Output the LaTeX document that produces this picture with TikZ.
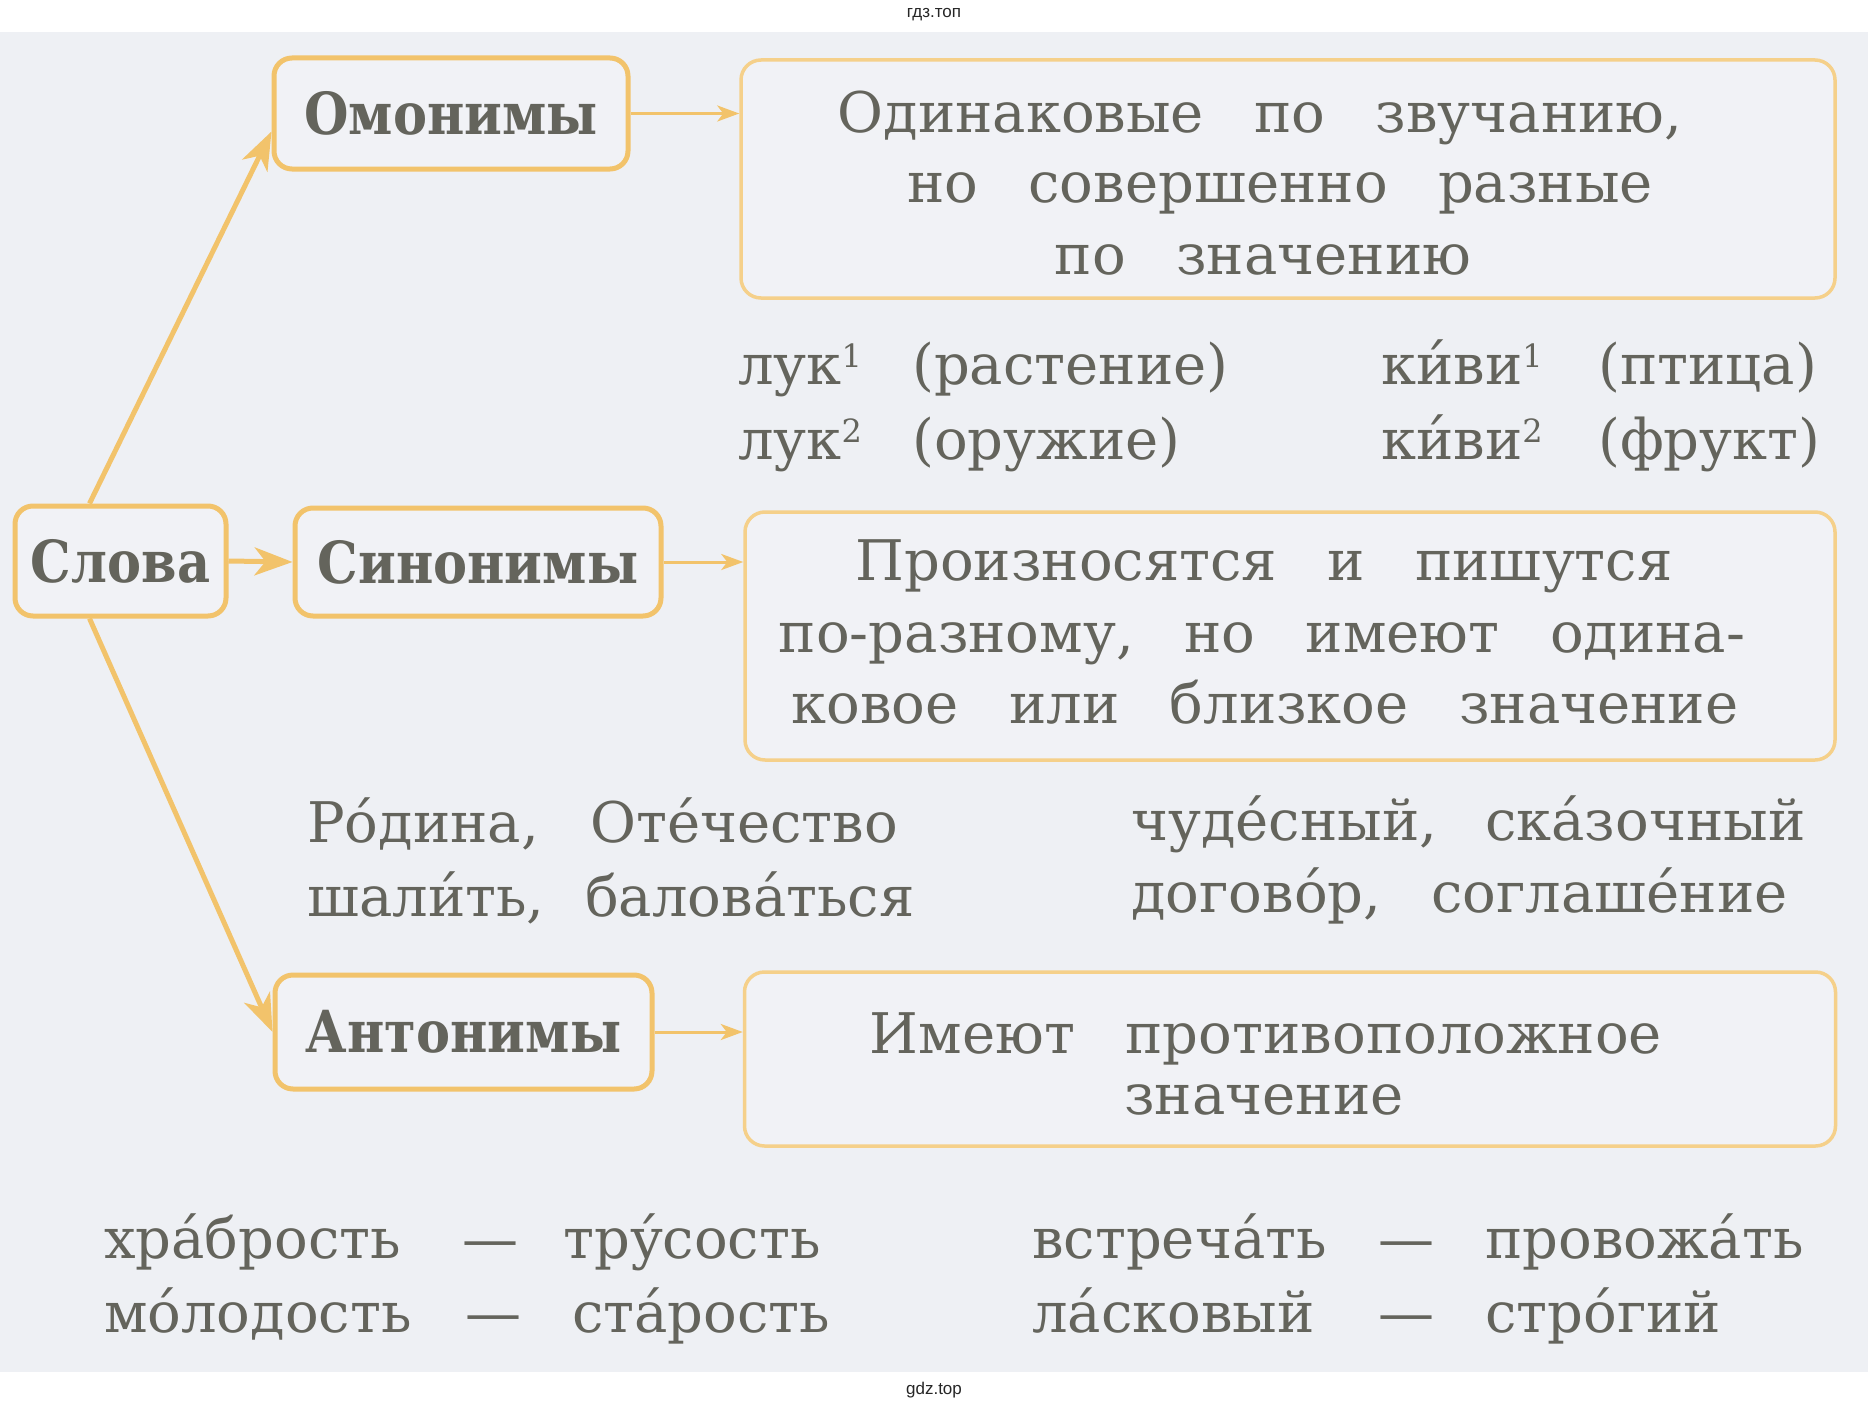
\documentclass[tikz,border=0pt]{standalone}
\usepackage{fontspec}
\setmainfont{DejaVu Serif}
\newfontfamily\boldlab[FakeStretch=0.88]{DejaVu Serif}
\newfontfamily\wmfont{Liberation Sans}
\usetikzlibrary{arrows.meta,positioning,calc}
\definecolor{bgc}{HTML}{EEF0F4}
\definecolor{gold}{HTML}{F2C36B}
\definecolor{goldl}{HTML}{F5D08A}
\definecolor{txtc}{HTML}{64645C}
\definecolor{boxfill}{HTML}{F1F2F6}
\newcommand\rfont{\fontsize{56}{64}\selectfont\spaceskip=0.9em\relax}
\newcommand\lfont{\boldlab\bfseries\fontsize{58}{64}\selectfont}
\newcommand\supd[1]{{\fontsize{32}{32}\selectfont\raisebox{17pt}{#1}}}
\tikzset{
  labbox/.style={draw=gold, line width=5pt, rounded corners=18pt, fill=boxfill,
    text=txtc, font=\lfont, inner sep=0pt},
  defbox/.style={draw=goldl, line width=3.5pt, rounded corners=20pt, fill=boxfill, inner sep=0pt},
  ln/.style={text=txtc, font=\rfont, inner sep=0pt, anchor=base},
  wd/.style={text=txtc, font=\rfont, inner sep=0pt, anchor=base west},
  bigarrow/.style={draw=gold, line width=5pt, -{Stealth[length=38pt,width=28pt,inset=11pt]}},
  thinarrow/.style={draw=gold, line width=3pt, -{Stealth[length=22pt,width=16pt,inset=6pt]}},
  wm/.style={font=\wmfont\fontsize{17}{17}\selectfont, text=black!85, inner sep=0pt}
}
\begin{document}
\begin{tikzpicture}[x=1pt,y=-1pt]
\useasboundingbox (0,0) rectangle (1868,1410);
\fill[white] (0,0) rectangle (1868,1410);
\fill[bgc] (0,32) rectangle (1868,1372);
\node[wm] (wmtop) at (934,15) {гдз.топ};
\node[wm] (wmbot) at (934,1390) {gdz.top};

% label boxes
\node[labbox, minimum width=211pt, minimum height=110pt] (slova) at (120.5,561) {Слова};
\node[labbox, minimum width=354pt, minimum height=111pt] (omon) at (451,113.5) {Омонимы};
\node[labbox, minimum width=366pt, minimum height=108pt] (syn) at (478,562) {Синонимы};
\node[labbox, minimum width=377pt, minimum height=114pt] (anton) at (463.5,1032) {Антонимы};

% definition boxes
\node[defbox, minimum width=1094pt, minimum height=238pt] (def1) at (1288,179) {};
\node[defbox, minimum width=1090pt, minimum height=248pt] (def2) at (1290,636) {};
\node[defbox, minimum width=1091pt, minimum height=174pt] (def3) at (1290,1059) {};

% definition texts
\node[ln] (d1a) at (1260,133) {Одинаковые по звучанию,};
\node[ln] (d1b) at (1280,202) {но совершенно разные};
\node[ln] (d1c) at (1263,274) {по значению};
\node[ln] (d2a) at (1264,580) {Произносятся и пишутся};
\node[ln] (d2b) at (1262,652) {по-разному, но имеют одина-};
\node[ln] (d2c) at (1265,723) {ковое или близкое значение};
\node[ln] (d3a) at (1266,1053) {Имеют противоположное};
\node[ln] (d3b) at (1264,1114) {значение};

% connectors
\draw[bigarrow] ([xshift=-31pt]slova.north) -- ([yshift=-18pt]omon.west);
\draw[bigarrow] ([xshift=-31pt]slova.south) -- (anton.west);
\draw[bigarrow] (slova.east) -- (syn.west);
\draw[thinarrow] (omon.east) -- (omon.east -| def1.west);
\draw[thinarrow] (syn.east) -- (syn.east -| def2.west);
\draw[thinarrow] (anton.east) -- (anton.east -| def3.west);

% homonym examples
\node[wd] (h1) at (738,384) {лук\supd{1}};
\node[wd] (h2) at (912,384) {(растение)};
\node[wd] (h3) at (1381,384) {ки́ви\supd{1}};
\node[wd] (h4) at (1598,384) {(птица)};
\node[wd] (h5) at (738,459) {лук\supd{2}};
\node[wd] (h6) at (912,459) {(оружие)};
\node[wd] (h7) at (1381,459) {ки́ви\supd{2}};
\node[wd] (h8) at (1598,459) {(фрукт)};

% synonym examples
\node[wd] (s1) at (307,842) {Ро́дина,};
\node[wd] (s2) at (590,842) {Оте́чество};
\node[wd] (s3) at (307,916) {шали́ть,};
\node[wd] (s4) at (585,916) {балова́ться};
\node[wd] (s5) at (1131,840) {чуде́сный,};
\node[wd] (s6) at (1485,840) {ска́зочный};
\node[wd] (s7) at (1131,912) {догово́р,};
\node[wd] (s8) at (1431,912) {соглаше́ние};

% antonym examples
\node[wd] (a1) at (104,1258) {хра́брость};
\node[wd] (a2) at (462,1258) {—};
\node[wd] (a3) at (563,1258) {тру́сость};
\node[wd] (a4) at (1032,1258) {встреча́ть};
\node[wd] (a5) at (1378,1258) {—};
\node[wd] (a6) at (1485,1258) {провожа́ть};
\node[wd] (a7) at (104,1332) {мо́лодость};
\node[wd] (a8) at (465,1332) {—};
\node[wd] (a9) at (572,1332) {ста́рость};
\node[wd] (a10) at (1032,1332) {ла́сковый};
\node[wd] (a11) at (1378,1332) {—};
\node[wd] (a12) at (1485,1332) {стро́гий};
\end{tikzpicture}
\end{document}
